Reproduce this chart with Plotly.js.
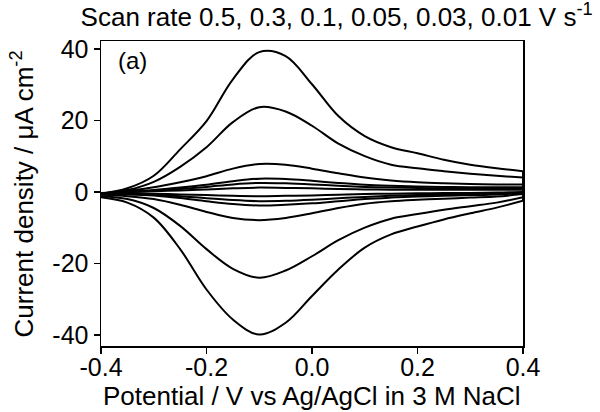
<!DOCTYPE html>
<html>
<head>
<meta charset="utf-8">
<script src="https://cdn.plot.ly/plotly-3.0.1.min.js"></script>
<style>html,body{margin:0;padding:0;background:#fff;}#chart{width:600px;height:412px;}</style>
</head>
<body>
<div id="chart"></div>
<script>
// Potential grid (V vs Ag/AgCl)
const potential = [-0.4, -0.35, -0.3, -0.25, -0.2, -0.15, -0.1, -0.05, 0, 0.05, 0.1, 0.15, 0.2, 0.25, 0.3, 0.35, 0.4];

// Scan rates (V/s)
const scanRates = ["0.5", "0.3", "0.1", "0.05", "0.03", "0.01"];

// Anodic (upper) branches, current density in µA cm^-2, at the potentials above
const ox_05  = [-0.5, 1.0, 4.5, 11.9, 19.8, 31.5, 39.1, 38.0, 30.1, 21.2, 15.6, 12.5, 10.8, 9.0, 7.6, 6.6, 5.8];
const ox_03  = [-0.5, 0.5, 2.8, 7.0, 12.5, 19.5, 23.7, 22.5, 18.5, 13.5, 10.0, 7.6, 6.6, 5.8, 5.1, 4.5, 4.0];
const ox_01  = [-0.5, 0.3, 1.3, 2.7, 4.4, 6.5, 7.8, 7.6, 6.5, 5.2, 4.0, 3.2, 2.7, 2.4, 2.2, 2.1, 2.1];
const ox_005 = [-0.5, 0.0, 0.5, 1.2, 2.0, 3.0, 3.7, 3.6, 3.1, 2.5, 2.0, 1.7, 1.5, 1.4, 1.3, 1.3, 1.3];
const ox_003 = [-0.5, -0.1, 0.3, 0.8, 1.4, 2.1, 2.5, 2.4, 2.1, 1.7, 1.4, 1.2, 1.1, 1.0, 1.0, 1.0, 1.0];
const ox_001 = [-0.3, 0.0, 0.2, 0.4, 0.7, 1.0, 1.2, 1.1, 1.0, 0.8, 0.7, 0.6, 0.6, 0.6, 0.6, 0.6, 0.6];

// Cathodic (lower) branches at the same potentials (listed from -0.4 to 0.4)
const red_05  = [-1.5, -3.0, -7.2, -16.0, -27.3, -35.7, -39.9, -36.6, -29.1, -21.7, -15.6, -11.9, -9.7, -7.7, -6.0, -4.4, -2.5];
const red_03  = [-1.2, -2.0, -4.5, -9.5, -16.0, -21.5, -24.0, -22.0, -18.0, -13.5, -10.0, -7.5, -6.2, -5.0, -4.0, -3.0, -1.5];
const red_01  = [-0.8, -1.2, -2.0, -3.6, -5.6, -7.3, -7.9, -7.3, -6.0, -4.5, -3.3, -2.6, -2.2, -1.9, -1.6, -1.3, -0.6];
const red_005 = [-0.6, -0.7, -1.0, -1.7, -2.6, -3.4, -3.8, -3.6, -3.2, -2.6, -2.0, -1.6, -1.3, -1.1, -0.9, -0.7, -0.3];
const red_003 = [-0.6, -0.6, -0.8, -1.2, -1.8, -2.3, -2.6, -2.5, -2.2, -1.8, -1.4, -1.1, -0.9, -0.8, -0.6, -0.5, -0.2];
const red_001 = [-0.4, -0.4, -0.5, -0.7, -0.9, -1.1, -1.2, -1.1, -1.0, -0.8, -0.6, -0.5, -0.4, -0.3, -0.3, -0.2, 0.0];

const oxBranches = [ox_05, ox_03, ox_01, ox_005, ox_003, ox_001];
const redBranches = [red_05, red_03, red_01, red_005, red_003, red_001];

// Axis ticks
const xTickVals = [-0.4, -0.2, 0, 0.2, 0.4];
const xTickText = ["-0.4", "-0.2", "0.0", "0.2", "0.4"];
const yTickVals = [-40, -20, 0, 20, 40];
const yTickText = ["-40", "-20", "0", "20", "40"];

const FONT = '"Liberation Sans", Arial, sans-serif';

const traces = [];
scanRates.forEach((sr, i) => {
  [oxBranches[i], redBranches[i]].forEach(br => {
    traces.push({
      type: 'scatter', mode: 'lines', name: sr + ' V/s',
      x: potential, y: br,
      line: {color: '#000', width: 2, shape: 'spline', smoothing: 1},
      hoverinfo: 'skip'
    });
  });
  // switching vertex at +0.4 V
  traces.push({
    type: 'scatter', mode: 'lines', name: sr + ' V/s switch',
    x: [potential[potential.length - 1], potential[potential.length - 1]],
    y: [oxBranches[i][oxBranches[i].length - 1], redBranches[i][redBranches[i].length - 1]],
    line: {color: '#000', width: 2}, hoverinfo: 'skip'
  });
});

const layout = {
  width: 600, height: 412,
  margin: {l: 101, r: 77, t: 41, b: 66},
  paper_bgcolor: '#fff', plot_bgcolor: '#fff',
  showlegend: false,
  font: {family: FONT, color: '#000', size: 24},
  title: {
    text: 'Scan rate 0.5, 0.3, 0.1, 0.05, 0.03, 0.01 V s<sup>-1</sup>',
    font: {family: FONT, size: 26, color: '#000'},
    xref: 'container', x: 0.561, xanchor: 'center',
    yref: 'container', y: 0.96, yanchor: 'middle'
  },
  xaxis: {
    range: [-0.4, 0.4],
    tickmode: 'array', tickvals: xTickVals, ticktext: xTickText,
    ticks: 'outside', ticklen: 6, tickwidth: 1.5, tickcolor: '#000',
    ticklabelstandoff: -8,
    showline: true, linecolor: '#000', linewidth: 1.5, mirror: true,
    showgrid: false, zeroline: false,
    tickfont: {family: FONT, size: 25, color: '#000'},
    automargin: false
  },
  yaxis: {
    range: [-43.1, 42.2],
    tickmode: 'array', tickvals: yTickVals, ticktext: yTickText,
    ticks: 'outside', ticklen: 6, tickwidth: 1.5, tickcolor: '#000',
    showline: true, linecolor: '#000', linewidth: 1.5, mirror: true,
    showgrid: false, zeroline: false,
    tickfont: {family: FONT, size: 25, color: '#000'},
    automargin: false
  },
  annotations: [
    {
      text: '(a)', xref: 'paper', yref: 'paper', x: 0.035, y: 0.937,
      xanchor: 'left', yanchor: 'middle', showarrow: false,
      font: {family: FONT, size: 24, color: '#000'}
    },
    {
      text: 'Potential / V vs Ag/AgCl in 3 M NaCl', xref: 'paper', yref: 'paper',
      x: 0.5, y: -0.164, xanchor: 'center', yanchor: 'middle', showarrow: false,
      font: {family: FONT, size: 26, color: '#000'}
    },
    {
      text: 'Current density / μA cm<sup>-2</sup>', xref: 'paper', yref: 'paper',
      x: -0.185, y: 0.5, xanchor: 'center', yanchor: 'middle', showarrow: false, textangle: -90,
      font: {family: FONT, size: 26, color: '#000'}
    }
  ]
};

Plotly.newPlot('chart', traces, layout, {displayModeBar: false, staticPlot: true});
</script>
</body>
</html>
